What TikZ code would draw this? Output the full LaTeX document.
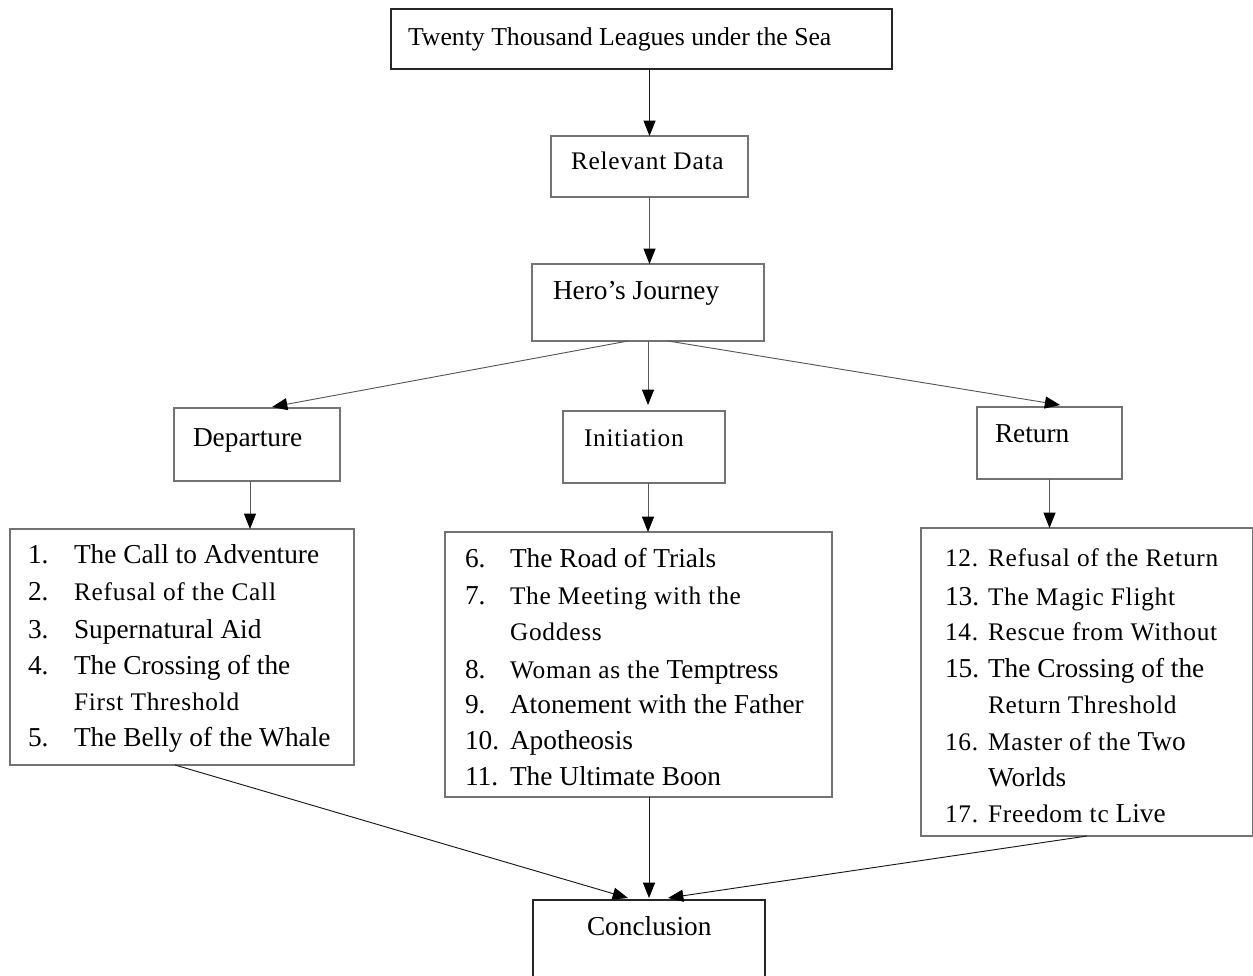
\documentclass[tikz,border=0pt]{standalone}
\usepackage{fontspec}
\setmainfont{Liberation Serif}
\usetikzlibrary{arrows.meta}
\newcommand\sm[1]{{\fontsize{19}{23}\selectfont\addfontfeature{LetterSpace=3}#1}}
\tikzset{
  box/.style={draw=black!55, line width=0.8pt, inner sep=0pt, outer sep=0pt},
  darkbox/.style={box, draw=black!85},
  txt/.style={inner sep=0pt, outer sep=0pt, anchor=base west, font=\fontsize{20.5}{24}\selectfont},
  arr/.style={draw=black!65, line width=0.7pt, -{Triangle[length=11.5pt,width=9pt,color=black]}},
  darr/.style={arr, draw=black!90}
}
\begin{document}
\begin{tikzpicture}[x=0.75pt,y=-0.75pt]
\clip (0,0) rectangle (1253,975);
\fill[white] (0,0) rectangle (1253,975);
% boxes
\node[darkbox, minimum width=501*0.75pt, minimum height=60*0.75pt] (title) at (641.5,39) {};
\node[box, minimum width=197*0.75pt, minimum height=61*0.75pt] (rel) at (649.5,166.5) {};
\node[box, minimum width=232*0.75pt, minimum height=77*0.75pt] (hero) at (648,302.5) {};
\node[box, minimum width=166*0.75pt, minimum height=73*0.75pt] (dep) at (257,444.5) {};
\node[box, minimum width=162*0.75pt, minimum height=72*0.75pt] (init) at (644,447) {};
\node[box, minimum width=145*0.75pt, minimum height=72*0.75pt] (ret) at (1049.5,443) {};
\node[box, minimum width=344*0.75pt, minimum height=236*0.75pt] (left) at (182,647) {};
\node[box, minimum width=387*0.75pt, minimum height=265*0.75pt] (mid) at (638.5,664.5) {};
\node[box, minimum width=332*0.75pt, minimum height=308*0.75pt] (right) at (1087,682) {};
\node[darkbox, minimum width=232*0.75pt, minimum height=110*0.75pt] (concl) at (649,955) {};
% box texts
\node[txt, font=\fontsize{19.3}{23}\selectfont] (ttitle) at (408,45) {Twenty Thousand Leagues under the Sea};
\node[txt] (trel) at (571,169) {\sm{Relevant Data}};
\node[txt] (thero) at (553,299) {Hero’s Journey};
\node[txt] (tdep) at (193,446) {Departure};
\node[txt] (tinit) at (584,446) {\sm{Initiation}};
\node[txt] (tret) at (995,442) {Return};
\node[txt] (tconcl) at (587,935) {Conclusion};
% left list
\node[txt] (n1) at (28,563) {1.};
\node[txt] (i1) at (74,563) {The Call to Adventure};
\node[txt] (n2) at (28,600) {2.};
\node[txt] (i2) at (74,600) {\sm{Refusal of the Call}};
\node[txt] (n3) at (28,638) {3.};
\node[txt] (i3) at (74,638) {Supernatural Aid};
\node[txt] (n4) at (28,674) {4.};
\node[txt] (i4) at (74,674) {The Crossing of the};
\node[txt] (i4b) at (74,710) {\sm{First Threshold}};
\node[txt] (n5) at (28,746) {5.};
\node[txt] (i5) at (74,746) {The Belly of the Whale};
% middle list
\node[txt] (n6) at (465,567) {6.};
\node[txt] (i6) at (510,567) {The Road of Trials};
\node[txt] (n7) at (465,604) {7.};
\node[txt] (i7) at (510,604) {\sm{The Meeting with the}};
\node[txt] (i7b) at (510,640) {\sm{Goddess}};
\node[txt] (n8) at (465,678) {8.};
\node[txt] (i8) at (510,678) {\sm{Woman as the}\hspace{0.25em}Temptress};
\node[txt] (n9) at (465,713) {9.};
\node[txt] (i9) at (510,713) {Atonement with the Father};
\node[txt] (n10) at (465,749) {10.};
\node[txt] (i10) at (510,749) {Apotheosis};
\node[txt] (n11) at (465,785) {11.};
\node[txt] (i11) at (510,785) {The Ultimate Boon};
% right list
\node[txt] (n12) at (945,566) {\sm{12.}};
\node[txt] (i12) at (988,566) {\sm{Refusal of the Return}};
\node[txt] (n13) at (945,605) {13.};
\node[txt] (i13) at (988,605) {\sm{The Magic Flight}};
\node[txt] (n14) at (945,640) {\sm{14.}};
\node[txt] (i14) at (988,640) {\sm{Rescue from Without}};
\node[txt] (n15) at (945,677) {15.};
\node[txt] (i15) at (988,677) {The Crossing of the};
\node[txt] (i15b) at (988,713) {\sm{Return Threshold}};
\node[txt] (n16) at (945,750) {\sm{16.}};
\node[txt] (i16) at (988,750) {\sm{Master of the}\hspace{0.25em}Two};
\node[txt] (i16b) at (988,786) {Worlds};
\node[txt] (n17) at (945,822) {\sm{17.}};
\node[txt] (i17) at (988,822) {\sm{Freedom tc}\hspace{0.25em}Live};
% connectors
\draw[darr] (title.south -| rel.north) -- (rel.north);
\draw[arr] (rel.south) -- (rel.south |- hero.north);
\draw[arr] ([xshift=-15pt]hero.south) -- ([xshift=11.25pt,yshift=0.75pt]dep.north);
\draw[arr] (hero.south) -- ([yshift=4.5pt]hero.south |- init.north);
\draw[arr] ([xshift=15pt]hero.south) -- ([xshift=8pt,yshift=1.5pt]ret.north);
\draw[arr] ([xshift=-5.25pt]dep.south) -- ([xshift=-5.25pt]dep.south |- left.north);
\draw[arr] (init.south -| hero.south) -- (hero.south |- mid.north);
\draw[arr] (ret.south) -- (ret.south |- right.north);
\draw[darr] ([xshift=-5.25pt]left.south) -- ([xshift=-15.75pt,yshift=1.5pt]concl.north);
\draw[darr] (concl.north |- mid.south) -- ([yshift=1.5pt]concl.north);
\draw[darr] (right.south) -- ([xshift=14.25pt,yshift=1.5pt]concl.north);
\end{tikzpicture}
\end{document}
